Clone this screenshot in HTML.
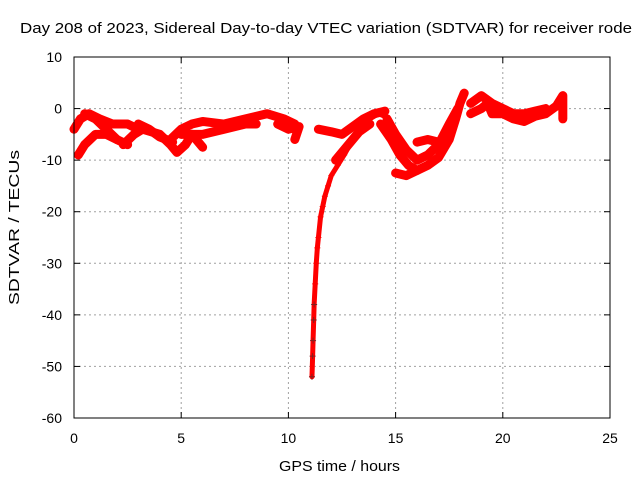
<!DOCTYPE html>
<html><head><meta charset="utf-8"><style>
body{margin:0;background:#fff;font-family:"Liberation Sans",sans-serif}
svg text{font-family:"Liberation Sans",sans-serif;font-size:14px;fill:#000}
</style></head><body>
<svg id="c" width="640" height="480" xmlns="http://www.w3.org/2000/svg">
<text x="20" y="33" textLength="612" lengthAdjust="spacingAndGlyphs" style="font-size:15px">Day 208 of 2023, Sidereal Day-to-day VTEC variation (SDTVAR) for receiver rode</text>
<text x="279" y="471" textLength="121" lengthAdjust="spacingAndGlyphs" style="font-size:15px">GPS time / hours</text>
<text transform="translate(19,305) rotate(-90)" textLength="155" lengthAdjust="spacingAndGlyphs" style="font-size:15px">SDTVAR / TECUs</text>
<g id="grid"></g><g id="series"></g>
<rect x="74" y="57" width="536" height="361" fill="none" stroke="#000" stroke-width="1"/>
<g id="ticks"></g>
</svg>
<script>
const xTicks=[0,5,10,15,20,25];
const yTicks=[10,0,-10,-20,-30,-40,-50,-60];
const track1=[[0,-4],[0.3,-2],[0.7,-1],[1.2,-2],[1.8,-3],[2.5,-3],[3,-4]];
const track2=[[0.2,-9],[0.5,-7],[1,-5],[1.5,-5],[2,-6],[2.5,-7]];
const track3=[[0.5,-1],[1,-2],[1.5,-4],[2,-6]];
const track4=[[2.3,-7],[2.8,-5],[3.2,-4],[4,-5],[4.5,-7],[4.8,-8.5],[5.2,-7],[5.5,-5]];
const track5=[[3,-3],[3.5,-4],[4,-5.5],[4.6,-6.5]];
const track6=[[4.5,-6],[5,-4],[5.5,-3],[6,-2.5],[7,-3],[8,-2],[9,-1],[9.8,-2],[10.3,-3]];
const track7=[[5,-5],[6,-5],[7,-4],[8,-3],[8.5,-3]];
const track8=[[5.5,-5],[6,-7.5]];
const track9=[[9.5,-3],[10,-4],[10.5,-3.5],[10.3,-6]];
const track10=[[11.1,-52],[11.13,-48],[11.15,-45],[11.18,-41],[11.2,-38],[11.25,-34],[11.3,-30],[11.35,-27],[11.4,-25],[11.5,-21],[11.6,-19],[11.7,-17],[11.85,-15],[12,-13],[12.3,-11],[12.6,-9],[13,-6],[13.4,-4],[13.8,-2],[14.2,-1],[14.5,-1.5]];
const track11=[[11.4,-4],[12,-4.5],[12.5,-5],[13,-3.5],[13.5,-2],[14,-1],[14.5,-0.5]];
const track12=[[14.3,-3],[14.8,-6],[15.2,-9],[15.6,-11],[16,-12],[16.5,-11],[17,-9.5],[17.5,-6],[17.8,-2],[18,1],[18.2,3]];
const track13=[[15,-12.5],[15.5,-13],[16,-12]];
const track14=[[16,-6.5],[16.5,-6],[17,-6.5],[17.5,-5]];
const track15=[[18.5,-1],[19,0],[19.3,1],[19.5,-1],[20,-1],[20.5,-2],[21,-2.5],[21.5,-1.5],[22,-1],[22.5,0.5],[22.8,2.5],[22.8,-2]];
const track16=[[18.5,1],[19,2.5],[19.5,1],[20,0],[20.5,-1],[21,-1],[21.5,-0.5],[22,0]];
const track17=[[14.6,-2],[15,-5],[15.5,-8],[16,-10],[16.5,-9],[17,-7],[17.5,-3],[17.9,0]];
const track18=[[12.2,-10],[12.8,-7],[13.3,-4.5],[13.8,-3]];
const tracks=[track1,track2,track3,track4,track5,track6,track7,track8,track9,track10,track11,track12,track13,track14,track15,track16,track17,track18];
const NS="http://www.w3.org/2000/svg";
const X=h=>74+h/25*536, Y=v=>57+(10-v)/70*361;
const grid=document.getElementById('grid'),ticks=document.getElementById('ticks'),ser=document.getElementById('series');
function mk(t,a,p){const e=document.createElementNS(NS,t);for(const k in a)e.setAttribute(k,a[k]);p.appendChild(e);return e;}
xTicks.forEach(t=>{const x=X(t);
 if(t>0&&t<25){const g=mk('line',{x1:x,x2:x,y1:57,y2:418,stroke:'#a0a0a0','stroke-dasharray':'2,3'},grid);
 
 }
 mk('line',{x1:x,x2:x,y1:418,y2:412,stroke:'#000'},ticks);mk('line',{x1:x,x2:x,y1:57,y2:63,stroke:'#000'},ticks);
 const l=mk('text',{x:x,y:443,'text-anchor':'middle'},ticks);l.textContent=t;
 
 });
yTicks.forEach(t=>{const y=Y(t);
 if(t<10&&t>-60){const g=mk('line',{x1:74,x2:610,y1:y,y2:y,stroke:'#a0a0a0','stroke-dasharray':'2,3'},grid);
 
 }
 mk('line',{x1:74,x2:80,y1:y,y2:y,stroke:'#000'},ticks);mk('line',{x1:610,x2:604,y1:y,y2:y,stroke:'#000'},ticks);
 const l=mk('text',{x:62,y:y+5,'text-anchor':'end'},ticks);l.textContent=t;
 
 });
tracks.forEach((tr,i)=>{
 const pts=tr.map(p=>X(p[0])+','+Y(p[1])).join(' ');
 const pl=mk('polyline',{points:pts,fill:'none',stroke:'#ff0000','stroke-width':9,'stroke-linejoin':'round','stroke-linecap':'round'},ser);
 
 
 if(i===9){pl.setAttribute('stroke-width','5');}
 tr.forEach(p=>{const x=X(p[0]),y=Y(p[1]);
  const m=mk('path',{d:`M${x-3},${y}h6M${x},${y-3}v6`,stroke:i===9&&p[1]<-35?'#802020':'#ff0000','stroke-width':1},ser);
  
  });
});
</script>
</body></html>
